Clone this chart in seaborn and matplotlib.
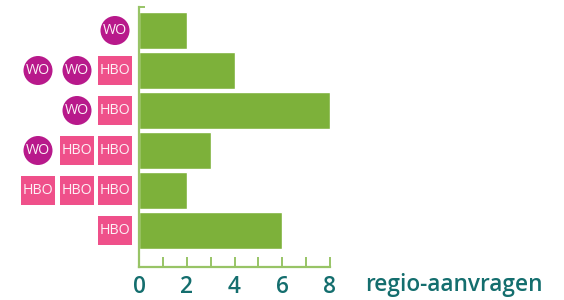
import matplotlib
matplotlib.use("Agg")
import matplotlib.pyplot as plt
import seaborn as sns
import pandas as pd
from matplotlib.patches import Rectangle, Ellipse

sns.set_style("white")
plt.rcParams['font.family'] = ['Open Sans', 'DejaVu Sans']

rows = ["r1", "r2", "r3", "r4", "r5", "r6"]
values = [2, 4, 8, 3, 2, 6]
badges = [["WO"], ["WO", "WO", "HBO"], ["WO", "HBO"], ["WO", "HBO", "HBO"],
          ["HBO", "HBO", "HBO"], ["HBO"]]
xticks = list(range(0, 9))
xticklabels = ["0", "", "2", "", "4", "", "6", "", "8"]
xlabel = "regio-aanvragen"

GREEN = "#7db13a"
AXIS_GREEN = "#98c466"
TEAL = "#146e6e"
WO_C = "#b8198b"
HBO_C = "#ef508a"

W, H = 564, 300
fig = plt.figure(figsize=(W / 100, H / 100), dpi=100)

left_px, right_px, top_px, bot_px = 139, 330, 7, 267
ax = fig.add_axes([left_px / W, (H - bot_px) / H, (right_px - left_px) / W, (bot_px - top_px) / H])
df = pd.DataFrame({"row": rows, "value": values})
sns.barplot(data=df, y="row", x="value", orient="h", color=GREEN, saturation=1,
            width=0.925, ax=ax)
ax.set_xlim(0, 8)
ax.set_ylim(5.9125, -0.5875)
for s in ["top", "right"]:
    ax.spines[s].set_visible(False)
for s in ["left", "bottom"]:
    ax.spines[s].set_color(AXIS_GREEN)
    ax.spines[s].set_linewidth(1.6)
ax.set_xticks(xticks)
ax.set_xticklabels(xticklabels)
ax.tick_params(axis="x", bottom=True, direction="in", length=7, width=1.4, color=AXIS_GREEN,
               labelsize=16.3, labelcolor=TEAL, pad=6)
for t in ax.get_xticklabels():
    t.set_fontweight("semibold")
ax.set_yticks([-0.5875])
ax.set_yticklabels([""])
ax.tick_params(axis="y", left=True, direction="in", length=4, width=1.4, color=AXIS_GREEN)
ax.set_xlabel("")
ax.set_ylabel("")

fig.text(365 / W, (H - 285) / H, xlabel, fontsize=16.3, color=TEAL,
         fontweight="semibold", va="center", ha="left")

# badge axes
bax = fig.add_axes([0, (H - bot_px) / H, left_px / W, (bot_px - top_px) / H], sharey=ax)
bax.set_xlim(0, left_px)
bax.axis("off")
col_x = [38, 77, 115]
unit = 40.0
for i, row in enumerate(badges):
    n = len(row)
    for j, b in enumerate(row):
        cx = col_x[3 - n + j]
        if b == "WO":
            bax.add_patch(Ellipse((cx, i), 29, 29 / unit, color=WO_C, lw=0))
        else:
            bax.add_patch(Rectangle((cx - 17, i - 14.5 / unit), 34, 29 / unit, color=HBO_C, lw=0))
        bax.text(cx, i, b, color="#fdf1f6", fontsize=10.3, ha="center", va="center")

fig.savefig("out.png", dpi=100)
